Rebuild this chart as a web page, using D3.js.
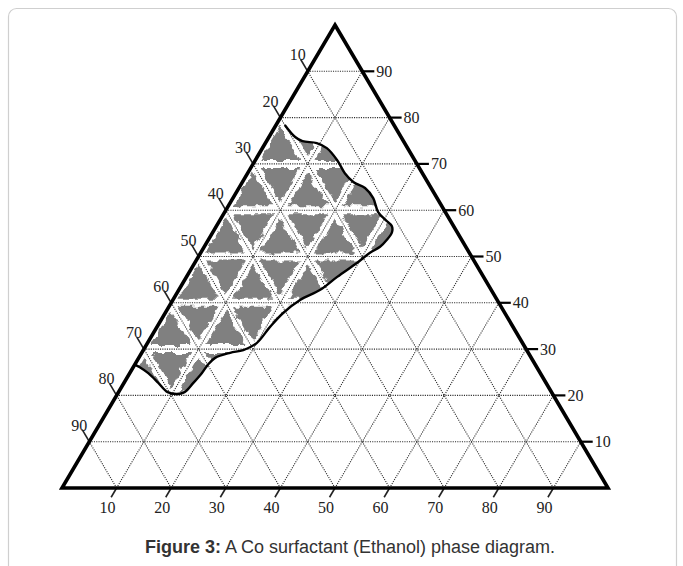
<!DOCTYPE html>
<html>
<head>
<meta charset="utf-8">
<script src="https://cdn.jsdelivr.net/npm/d3@7"></script>
<style>
  html, body { margin: 0; padding: 0; background: #fff; }
  svg { display: block; }
</style>
</head>
<body>
<svg id="chart" width="683" height="566"></svg>
<script>
// ---------- data ----------
const gridValues = [10, 20, 30, 40, 50, 60, 70, 80, 90];
const bottomLabels = ["10", "20", "30", "40", "50", "60", "70", "80", "90"];
const leftLabels = ["10", "20", "30", "40", "50", "60", "70", "80", "90"];   // top -> bottom
const rightLabels = ["90", "80", "70", "60", "50", "40", "30", "20", "10"];  // top -> bottom
// phase boundary, ternary components: top (height %) and right (%)
const boundaryTop = [78.4, 75.8, 74.9, 74.5, 73.4, 70.8, 68.0, 66.1, 64.8, 62.6, 59.6, 57.9, 56.6, 55.3, 53.6, 52.1, 50.8, 48.6, 45.6, 42.8, 40.6, 37.8, 34.8, 31.3, 29.8, 29.2, 28.1, 26.6, 24.8, 22.7, 20.7, 20.3, 20.7, 22.7, 24.8, 26.1, 26.6];
const boundaryRight = [1.6, 4.8, 6.6, 9.4, 11.8, 15.0, 17.8, 20.3, 23.1, 25.7, 28.1, 30.3, 32.1, 32.8, 32.7, 32.2, 31.0, 29.7, 27.6, 25.9, 23.3, 21.6, 20.7, 20.0, 18.3, 16.2, 14.0, 13.4, 13.2, 12.7, 12.1, 10.9, 9.0, 6.3, 3.4, 1.2, 0.1];
const captionBold = "Figure 3:";
const captionText = " A Co surfactant (Ethanol) phase diagram.";

// ---------- scales ----------
const x = d3.scaleLinear().domain([0, 100]).range([62, 608]);
const y = d3.scaleLinear().domain([0, 100]).range([488, 25]);
const pt = (T, R) => [x(R + T / 2), y(T)];

const svg = d3.select("#chart");

// frame
svg.append("rect")
  .attr("x", 8.5).attr("y", 8.5).attr("width", 668).attr("height", 600)
  .attr("rx", 8).attr("fill", "none").attr("stroke", "#cfcfcf").attr("stroke-width", 1.2);

const defs = svg.append("defs");
const filt = defs.append("filter").attr("id", "rough")
  .attr("x", "-10%").attr("y", "-10%").attr("width", "120%").attr("height", "120%");
filt.append("feTurbulence").attr("type", "fractalNoise").attr("baseFrequency", 0.12)
  .attr("numOctaves", 3).attr("seed", 7).attr("result", "noise");
filt.append("feDisplacementMap").attr("in", "SourceGraphic").attr("in2", "noise")
  .attr("scale", 8).attr("xChannelSelector", "R").attr("yChannelSelector", "G");

// region clip
const boundary = boundaryTop.map((t, i) => pt(t, boundaryRight[i]));
const line = d3.line().curve(d3.curveCatmullRom.alpha(0.5));
const leftTopPt = pt(boundaryTop[0], 0);
const leftBotPt = pt(boundaryTop[boundaryTop.length - 1], 0);
const regionPath = line(boundary) + "L" + leftBotPt.join(",") + "L" + leftTopPt.join(",") + "Z";
defs.append("clipPath").attr("id", "region").append("path").attr("d", regionPath);

// gray blobs in grid cells
const cells = [];
for (let T = 0; T < 100; T += 10) {
  for (let R = 0; T + R < 100; R += 10) {
    cells.push([[T, R], [T, R + 10], [T + 10, R]]);
    if (T + R <= 80) cells.push([[T, R + 10], [T + 10, R], [T + 10, R + 10]]);
  }
}
const blobG = svg.append("g").attr("clip-path", "url(#region)")
  .append("g").attr("filter", "url(#rough)");
blobG.selectAll("path.blob").data(cells).join("path")
  .attr("class", "blob")
  .attr("d", c => {
    const ps = c.map(v => pt(v[0], v[1]));
    const cx = d3.mean(ps, p => p[0]), cy = d3.mean(ps, p => p[1]);
    const k = 0.74;
    return "M" + ps.map(p => [cx + (p[0] - cx) * k, cy + (p[1] - cy) * k].join(",")).join("L") + "Z";
  })
  .attr("fill", "#808080");

// grid lines
const grid = svg.append("g").attr("fill", "none").attr("stroke", "#2a2a2a")
  .attr("stroke-width", 1.1).attr("stroke-dasharray", "1.1,1.2");
gridValues.forEach(k => {
  grid.append("line").attr("x1", pt(k, 0)[0]).attr("y1", pt(k, 0)[1])
    .attr("x2", pt(k, 100 - k)[0]).attr("y2", pt(k, 100 - k)[1]);
  grid.append("line").attr("x1", pt(0, k)[0]).attr("y1", pt(0, k)[1])
    .attr("x2", pt(100 - k, k)[0]).attr("y2", pt(100 - k, k)[1]);
  grid.append("line").attr("x1", pt(0, 100 - k)[0]).attr("y1", pt(0, 100 - k)[1])
    .attr("x2", pt(100 - k, 0)[0]).attr("y2", pt(100 - k, 0)[1]);
});

// boundary curve
svg.append("path").attr("d", line(boundary)).attr("fill", "none")
  .attr("stroke", "#000").attr("stroke-width", 2.4);

// ticks and labels
const ticks = svg.append("g").attr("stroke", "#222").attr("stroke-width", 1.6);
const labels = svg.append("g").attr("font-family", "'Liberation Serif', 'Times New Roman', serif")
  .attr("font-size", 16).attr("fill", "#222");

gridValues.forEach((k, i) => {
  // bottom
  const b0 = pt(0, k), b1 = pt(-2, k);
  ticks.append("line").attr("x1", b0[0]).attr("y1", b0[1]).attr("x2", b1[0]).attr("y2", b1[1]);
  labels.append("text").attr("x", b0[0] - 9).attr("y", b0[1] + 25).attr("text-anchor", "middle")
    .text(bottomLabels[i]);
  // left
  const t = 100 - k;
  const l0 = pt(t, 0), l1 = pt(t + 2.6, -2.6);
  ticks.append("line").attr("x1", l0[0]).attr("y1", l0[1]).attr("x2", l1[0]).attr("y2", l1[1]);
  labels.append("text").attr("x", l0[0] - 10).attr("y", l0[1] - 11).attr("text-anchor", "middle")
    .text(leftLabels[i]);
  // right
  const r0 = pt(t, 100 - t), r1 = pt(t, 100 - t + 2.2);
  ticks.append("line").attr("x1", r0[0]).attr("y1", r0[1]).attr("x2", r1[0]).attr("y2", r1[1])
    .attr("stroke-width", 2.2).attr("stroke", "#000");
  labels.append("text").attr("x", r0[0] + 14).attr("y", r0[1] + 5.5).attr("text-anchor", "start")
    .text(rightLabels[i]);
});

// triangle outline
const tri = [pt(100, 0), pt(0, 100), pt(0, 0)];
svg.append("path").attr("d", "M" + tri.map(p => p.join(",")).join("L") + "Z")
  .attr("fill", "none").attr("stroke", "#000").attr("stroke-width", 3.6)
  .attr("stroke-linejoin", "miter").attr("stroke-miterlimit", 10);

// caption
const cap = svg.append("text").attr("x", 350).attr("y", 553).attr("text-anchor", "middle")
  .attr("font-family", "'Liberation Sans', Arial, sans-serif").attr("font-size", 18).attr("fill", "#333");
cap.append("tspan").attr("font-weight", "bold").text(captionBold);
cap.append("tspan").text(captionText);
</script>
</body>
</html>
